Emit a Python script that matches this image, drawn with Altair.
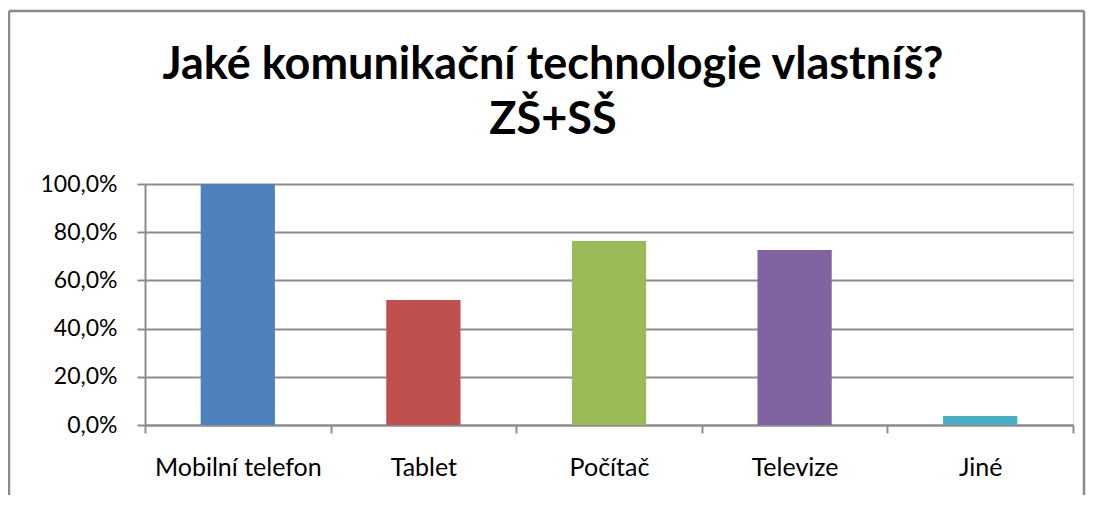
import altair as alt
import pandas as pd

categories = ["Mobilní telefon", "Tablet", "Počítač", "Televize", "Jiné"]
values = [1.0, 0.519, 0.763, 0.726, 0.037]
colors = ["#4F81BD", "#C0504D", "#9BBB59", "#8064A2", "#4BACC6"]
title_lines = ["Jaké komunikační technologie vlastníš?", "ZŠ+SŠ"]

df = pd.DataFrame({"kategorie": categories, "podil": values})
one = pd.DataFrame({"a": [0]})

GRID = "#8c8c8c"
FRAME = "#8a8a8a"

bars = alt.Chart(df).mark_bar(width=alt.RelativeBandSize(0.4)).encode(
    x=alt.X("kategorie:N", sort=categories,
            scale=alt.Scale(paddingInner=0, paddingOuter=0),
            axis=alt.Axis(title=None, labelAngle=0, tickBand="extent",
                          grid=False, domain=True, domainColor=GRID, domainWidth=2,
                          ticks=True, tickColor=GRID, tickWidth=2, tickSize=8,
                          labelFont="Lato", labelFontSize=25, labelColor="#000000",
                          labelPadding=22)),
    y=alt.Y("podil:Q", scale=alt.Scale(domain=[0, 1], nice=False),
            axis=alt.Axis(title=None, values=[0, 0.2, 0.4, 0.6, 0.8, 1.0], format=".1%",
                          labelExpr="replace(datum.label, '.', ',')",
                          grid=True, gridColor=GRID, gridWidth=2,
                          domain=True, domainColor=GRID, domainWidth=2,
                          ticks=True, tickColor=GRID, tickWidth=2, tickSize=8,
                          labelFont="Lato", labelFontSize=23, labelColor="#000000",
                          labelPadding=20)),
    color=alt.Color("kategorie:N", sort=categories,
                    scale=alt.Scale(domain=categories, range=colors), legend=None),
)

frame_top = alt.Chart(one).mark_rule(color=FRAME, strokeWidth=2.5).encode(
    x=alt.value(-136), x2=alt.value(939), y=alt.value(-173))
frame_left = alt.Chart(one).mark_rule(color=FRAME, strokeWidth=2.5).encode(
    x=alt.value(-136), y=alt.value(-173), y2=alt.value(330))
frame_right = alt.Chart(one).mark_rule(color=FRAME, strokeWidth=2.5).encode(
    x=alt.value(939), y=alt.value(-173), y2=alt.value(330))

chart = alt.layer(bars, frame_top, frame_left, frame_right).properties(
    width=928, height=241,
    autosize=alt.AutoSizeParams(type="none"),
    padding={"left": 137, "top": 176, "right": 13, "bottom": 70},
    title=alt.TitleParams(text=title_lines, font="Lato", fontSize=45, fontWeight="bold",
                          color="#000000", anchor="middle", dx=-56, offset=0, dy=133,
                          lineHeight=55, frame="group"),
).configure_view(stroke=None).configure(background="#ffffff")

chart.save("out.html", embed_options={"renderer": "svg", "actions": False})
